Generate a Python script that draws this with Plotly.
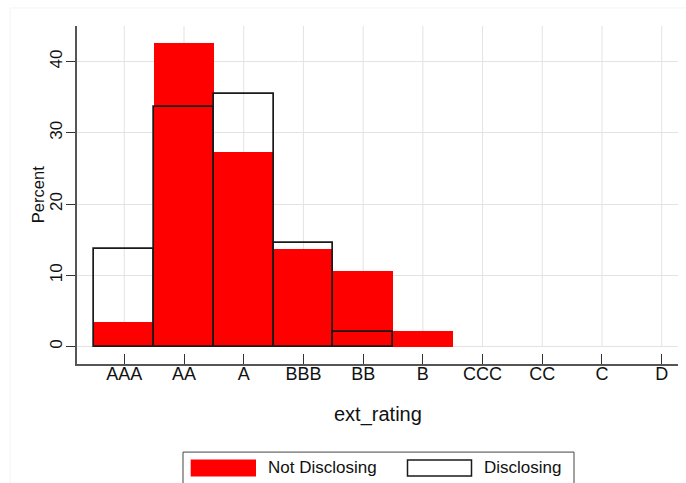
import plotly.graph_objects as go

categories = ["AAA", "AA", "A", "BBB", "BB", "B", "CCC", "CC", "C", "D"]
not_disclosing = [3.4, 42.6, 27.3, 13.7, 10.6, 2.2, 0, 0, 0, 0]
disclosing = [13.7, 33.6, 35.4, 14.6, 2.1, 0, 0, 0, 0, 0]
y_ticks = [0, 10, 20, 30, 40]

positions = list(range(1, len(categories) + 1))
FONT = "Liberation Sans, Arial, sans-serif"

W, H = 686, 483
ML, MR, MT, MB = 77, 8, 26, 119.3
PW = W - ML - MR
PH = H - MT - MB


def px(x):
    return (x - ML) / PW


def py(y):
    return (H - MB - y) / PH


fig = go.Figure()
fig.add_trace(go.Bar(
    x=positions, y=not_disclosing, width=1.0, name="Not Disclosing",
    marker=dict(color="#ff0000", line=dict(width=0)), showlegend=False,
))
fig.add_trace(go.Bar(
    x=[p for p, v in zip(positions, disclosing) if v > 0],
    y=[v for v in disclosing if v > 0], width=1.0, name="Disclosing",
    marker=dict(color="rgba(0,0,0,0)", line=dict(color="#1a1a1a", width=1.7)),
    showlegend=False,
))

shapes = []
# vertical gridlines spanning the plot region only
for p in positions:
    shapes.append(dict(type="line", xref="x", yref="y", x0=p, x1=p, y0=0, y1=45,
                       line=dict(color="#e3e3e3", width=1), layer="below"))
# faint outer graph-region border
shapes.append(dict(type="rect", xref="paper", yref="paper",
                   x0=px(10), x1=px(700), y0=py(8), y1=py(500),
                   line=dict(color="#f4f4f4", width=1), layer="below"))
# legend box
shapes.append(dict(type="rect", xref="paper", yref="paper",
                   x0=px(183), x1=px(574), y0=py(451.7), y1=py(495),
                   line=dict(color="#444444", width=1), fillcolor="white"))
shapes.append(dict(type="rect", xref="paper", yref="paper",
                   x0=px(190.7), x1=px(256), y0=py(459), y1=py(476),
                   line=dict(width=0), fillcolor="#ff0000"))
shapes.append(dict(type="rect", xref="paper", yref="paper",
                   x0=px(407.5), x1=px(471.5), y0=py(459.5), y1=py(475.5),
                   line=dict(color="#1a1a1a", width=1.5), fillcolor="white"))

annotations = [
    dict(text="Not Disclosing", xref="paper", yref="paper", x=px(266), y=py(467.5),
         xanchor="left", yanchor="middle", showarrow=False,
         font=dict(family=FONT, size=17, color="#111111")),
    dict(text="Disclosing", xref="paper", yref="paper", x=px(481.5), y=py(467.5),
         xanchor="left", yanchor="middle", showarrow=False,
         font=dict(family=FONT, size=17, color="#111111")),
    dict(text="ext_rating", xref="paper", yref="paper", x=px(377.5), y=py(414),
         xanchor="center", yanchor="middle", showarrow=False,
         font=dict(family=FONT, size=20, color="#111111")),
    dict(text="Percent", xref="paper", yref="paper", x=px(37.5), y=py(194.5),
         xanchor="center", yanchor="middle", showarrow=False, textangle=-90,
         font=dict(family=FONT, size=16.5, color="#111111")),
]

fig.update_layout(
    width=W, height=H,
    margin=dict(l=ML, r=MR, t=MT, b=MB, pad=0, autoexpand=False),
    paper_bgcolor="white", plot_bgcolor="white",
    barmode="overlay", bargap=0,
    shapes=shapes, annotations=annotations,
    font=dict(family=FONT, size=17, color="#111111"),
    xaxis=dict(
        range=[0.208, 10.273], tickmode="array", tickvals=positions, ticktext=categories,
        showgrid=False, zeroline=False, showline=True, linecolor="#555555", linewidth=1.5,
        ticks="inside", ticklen=10, tickcolor="#333333", tickwidth=1.3,
        tickfont=dict(family=FONT, size=18, color="#111111"), ticklabelstandoff=-7,
        automargin=False,
    ),
    yaxis=dict(
        range=[-2.44, 45], tickmode="array", tickvals=y_ticks,
        showgrid=True, gridcolor="#e3e3e3", gridwidth=1, zeroline=False,
        showline=True, linecolor="#555555", linewidth=1.5,
        ticks="outside", ticklen=9, tickcolor="#333333", tickwidth=1.3, tickangle=-90,
        tickfont=dict(family=FONT, size=17, color="#111111"), ticklabelstandoff=-3,
        automargin=False,
    ),
)

fig.write_html(
    "out.html",
    config={"displayModeBar": False},
    post_script="document.body.style.margin='0';document.body.style.padding='0';",
)
